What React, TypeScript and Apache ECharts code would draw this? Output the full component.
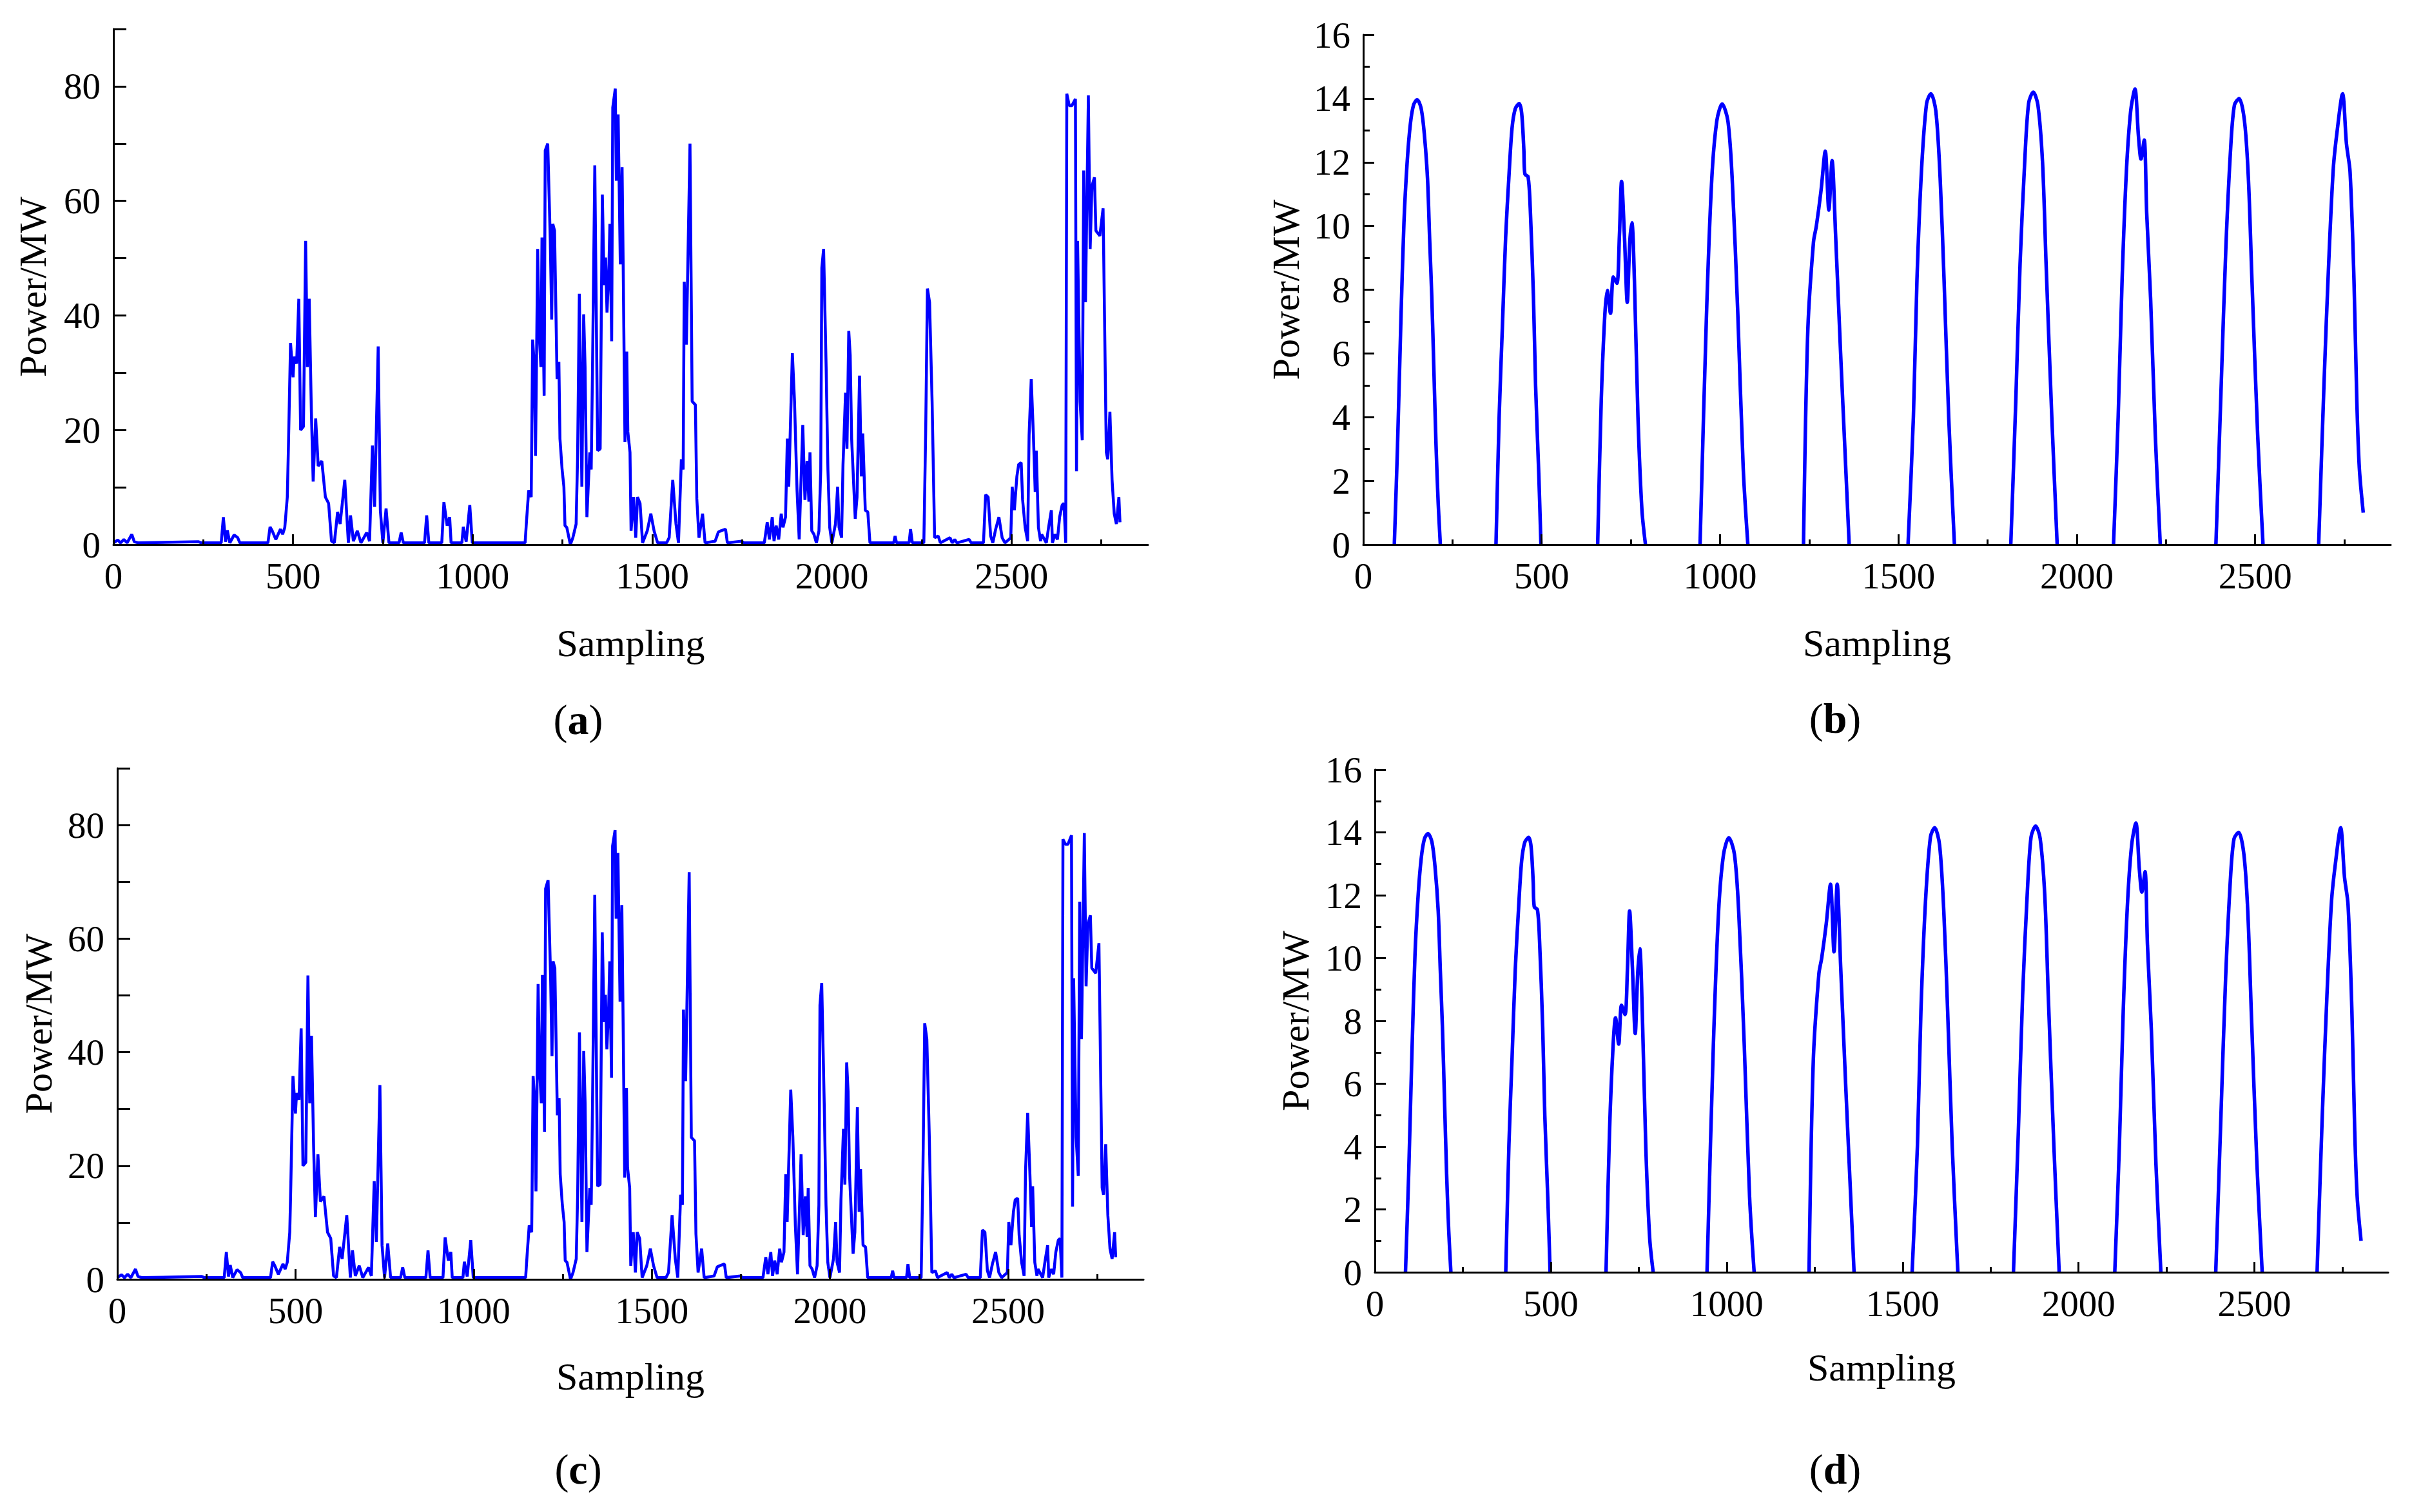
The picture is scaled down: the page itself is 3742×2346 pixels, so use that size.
import { useEffect, useRef } from "react";
import * as echarts from "echarts";

const FONT = "'Liberation Serif', 'Times New Roman', serif";
const BLUE = "#0000ff";

// wind power samples (panels a and c share the sampling positions)
const windX = [
  0, 12, 20, 29, 38, 51, 58, 70, 237, 245, 300, 306, 312, 317, 324, 336, 346, 352,
  430, 436, 442, 452, 465, 471, 477, 484, 487, 493, 500, 503, 510, 516, 521, 529, 535, 540, 545, 551, 556, 563, 570, 580, 590, 599, 607, 615,
  624, 631, 644, 654, 660, 668, 679, 689, 705, 713, 721, 727, 737, 743, 750, 759, 767, 795, 801, 807, 866, 872, 878, 914, 920, 929, 936, 940, 970, 974, 982, 992, 999,
  1146, 1150, 1156, 1163, 1167, 1172, 1175, 1181, 1185, 1190, 1193, 1199, 1202, 1209, 1216, 1220, 1223, 1228, 1231, 1235, 1240, 1243, 1249, 1254, 1257, 1262, 1272,
  1279, 1288, 1292, 1297, 1304, 1309, 1313, 1318, 1326, 1330, 1334, 1340, 1348, 1355, 1361, 1366, 1370, 1374, 1379, 1382, 1387, 1390, 1397, 1400, 1405, 1411, 1416, 1419, 1424, 1429, 1432, 1438, 1441, 1448, 1454, 1459, 1466, 1473,
  1486, 1496, 1505, 1515, 1540, 1547, 1557, 1566, 1573, 1581, 1586, 1589, 1595, 1605, 1611, 1620, 1624, 1630, 1640, 1647, 1675, 1684, 1691, 1704, 1709, 1749, 1755,
  1812, 1820, 1826, 1834, 1839, 1845, 1852, 1859, 1864, 1871, 1876, 1880, 1890, 1896, 1903, 1909, 1919, 1925, 1931, 1936, 1939, 1944, 1950, 1957,
  1964, 1969, 1972, 1977, 1984, 1989, 1994, 2000, 2010, 2016, 2020, 2027, 2031, 2038, 2042, 2047, 2051, 2055, 2065, 2070, 2077, 2082, 2086, 2093, 2100, 2106,
  2172, 2176, 2180, 2215, 2219, 2224, 2256, 2261, 2266, 2272, 2279, 2286, 2296, 2302,
  2329, 2335, 2342, 2348, 2382, 2388, 2422, 2428, 2435, 2442, 2448, 2456, 2465, 2474, 2482,
  2498, 2502, 2508, 2515, 2520, 2527, 2531, 2538, 2545, 2549, 2555, 2561, 2566, 2569, 2575, 2581, 2584, 2597, 2604, 2611, 2614, 2621, 2628, 2634, 2641, 2646, 2651,
  2654, 2661, 2668, 2678, 2681, 2684, 2691, 2697, 2701, 2706, 2714, 2719, 2724, 2731, 2735, 2746, 2755, 2764, 2768, 2774, 2780, 2786, 2792, 2799, 2802,
];

// panel (a)
const windA = [
  0.3, 0.8, 0.3, 0.9, 0.3, 1.8, 0.5, 0.3, 0.5, 0.3, 0.3, 4.8, 0.5, 2.5, 0.3, 1.7, 1.2, 0.3,
  0.3, 3.1, 2.4, 0.9, 2.7, 1.8, 3.0, 8.3, 16.7, 35.2, 29.2, 32.8, 31.6, 42.9, 20, 20.6, 53, 31, 42.9, 23.2, 11, 22, 13.7, 14.6, 8.3, 7.2, 0.6, 0.3,
  5.7, 3.6, 11.3, 0.3, 5.1, 0.6, 2.4, 0.3, 2.1, 0.6, 17.3, 6.6, 34.6, 6, 0.3, 6.3, 0.3, 0.3, 2.1, 0.3, 0.3, 5.1, 0.3, 0.3, 7.4, 3.3, 4.8, 0.3, 0.3, 3.1, 0.5, 6.9, 0.3,
  0.3, 4.2, 9.5, 8.3, 35.8, 31, 15.5, 51.6, 37, 31, 53.6, 26, 68.8, 70, 53.4, 39.3, 56, 54.8, 43.5, 28.9, 31.9, 18.5, 13.1, 10.1, 3.3, 3, 0,
  1.2, 3.6, 14.9, 43.8, 10.1, 40.2, 31, 4.8, 16.1, 13.1, 32.5, 66.2, 16.4, 16.7, 61.1, 45.3, 50.1, 40.5, 47.7, 56, 35.5, 76.3, 79.6, 63.5, 75.1, 48.9, 65.9, 48.9, 17.9, 33.7, 19.7, 16.1, 2.4, 8.3, 1.2, 8.3, 7.2, 0.3,
  2.4, 5.4, 2.4, 0.3, 0.3, 1.2, 11.3, 3.6, 0.3, 14.9, 13.1, 45.9, 34.9, 70, 25, 24.4, 8, 1.2, 5.4, 0.3, 0.6, 2.2, 2.4, 2.7, 0.3, 0.6, 0.3,
  0.3, 3.9, 0.9, 4.8, 0.6, 3.3, 0.9, 5.4, 3, 4.8, 18.5, 10.1, 33.4, 25, 9.5, 0.9, 20.9, 7.8, 14.6, 7.5, 16.1, 2.4, 1.8, 0.3,
  2.4, 13.1, 48.3, 51.6, 31, 13.1, 3, 0.3, 3.6, 10.1, 3, 1.2, 14, 26.5, 16.7, 37.3, 33.1, 18.5, 4.5, 8.3, 29.5, 11.9, 19.4, 6, 5.7, 0.3,
  0.3, 1.5, 0.3, 0.3, 2.7, 0.3, 0.3, 19.1, 44.7, 42.3, 25, 1.2, 1.5, 0.3,
  1.2, 0.3, 0.9, 0.3, 0.9, 0.3, 0.3, 8.7, 8.3, 1.5, 0.3, 2.7, 4.8, 1.2, 0.3,
  1.2, 10.1, 6, 11.9, 14, 14.3, 7.8, 3, 0.6, 19.1, 28.9, 19.1, 9.2, 16.4, 3, 0.6, 1.8, 0.3, 3.3, 6, 0.3, 1.8, 0.9, 4.8, 6.9, 7.2, 0.3,
  78.7, 76.6, 76.6, 77.8, 12.8, 53, 25, 18.2, 65.3, 42.3, 78.4, 51.6, 62.6, 64.1, 54.8, 53.9, 58.7, 16.1, 14.9, 23.2, 11.3, 5.4, 3.6, 8.3, 3.9,
];

// panel (c)
const windC = [
  0.3, 0.8, 0.3, 0.9, 0.3, 1.8, 0.5, 0.3, 0.5, 0.3, 0.3, 4.8, 0.5, 2.5, 0.3, 1.7, 1.2, 0.3,
  0.3, 3.1, 2.4, 0.9, 2.7, 1.8, 3.0, 8.3, 16.7, 35.8, 29.2, 32.8, 31.6, 44.2, 20, 20.6, 53.5, 31, 42.9, 23.2, 11, 22, 13.7, 14.6, 8.3, 7.2, 0.6, 0.3,
  5.7, 3.6, 11.3, 0.3, 5.1, 0.6, 2.4, 0.3, 2.1, 0.6, 17.3, 6.6, 34.2, 6, 0.3, 6.3, 0.3, 0.3, 2.1, 0.3, 0.3, 5.1, 0.3, 0.3, 7.4, 3.3, 4.8, 0.3, 0.3, 3.1, 0.5, 6.9, 0.3,
  0.3, 4.2, 9.5, 8.3, 35.8, 31, 15.5, 52, 37, 31, 53.6, 26, 68.8, 70.3, 53.4, 39.3, 56, 54.8, 43.5, 28.9, 31.9, 18.5, 13.1, 10.1, 3.3, 3, 0,
  1.2, 3.6, 14.9, 43.5, 10.1, 40.2, 31, 4.8, 16.1, 13.1, 32.5, 67.7, 16.4, 16.7, 61.1, 45.3, 50.1, 40.5, 47.7, 56, 35.5, 76.3, 79.1, 63.5, 75.1, 48.9, 65.9, 48.9, 17.9, 33.7, 19.7, 16.1, 2.4, 8.3, 1.2, 8.3, 7.2, 0.3,
  2.4, 5.4, 2.4, 0.3, 0.3, 1.2, 11.3, 3.6, 0.3, 14.9, 13.1, 47.5, 34.9, 71.7, 25, 24.4, 8, 1.2, 5.4, 0.3, 0.6, 2.2, 2.4, 2.7, 0.3, 0.6, 0.3,
  0.3, 3.9, 0.9, 4.8, 0.6, 3.3, 0.9, 5.4, 3, 4.8, 18.5, 10.1, 33.4, 25, 9.5, 0.9, 22, 7.8, 14.6, 7.5, 16.1, 2.4, 1.8, 0.3,
  2.4, 13.1, 48.3, 52.2, 31, 13.1, 3, 0.3, 3.6, 10.1, 3, 1.2, 14, 26.5, 16.7, 38.2, 33.1, 18.5, 4.5, 8.3, 30.3, 11.9, 19.4, 6, 5.7, 0.3,
  0.3, 1.5, 0.3, 0.3, 2.7, 0.3, 0.3, 19.1, 45.1, 42.3, 25, 1.2, 1.5, 0.3,
  1.2, 0.3, 0.9, 0.3, 0.9, 0.3, 0.3, 8.7, 8.3, 1.5, 0.3, 2.7, 4.8, 1.2, 0.3,
  1.2, 10.1, 6, 11.9, 14, 14.3, 7.8, 3, 0.6, 19.1, 29.3, 19.1, 9.2, 16.4, 3, 0.6, 1.8, 0.3, 3.3, 6, 0.3, 1.8, 0.9, 4.8, 6.9, 7.2, 0.3,
  77.5, 76.6, 76.6, 78.2, 12.8, 53, 25, 18.2, 66.5, 42.3, 78.6, 51.6, 62.6, 64.1, 54.8, 53.9, 59.2, 16.1, 14.9, 23.8, 11.3, 5.4, 3.6, 8.3, 3.9,
];

// solar power samples (panels b and d); null splits the daily humps
const solarX = [
  87, 96, 105, 114, 123, 132, 141, 151, 162, 171, 180, 186, 192, 198, 204, 210, 216, 300,
  372, 381, 390, 399, 408, 417, 426, 437, 444, 450, 453, 462, 468, 477, 483, 492, 498, 580,
  657, 667, 677, 684, 693, 701, 711, 718, 724, 732, 740, 747, 753, 760, 770, 781, 791, 870,
  944, 962, 977, 991, 1006, 1022, 1034, 1050, 1065, 1078, 1150,
  1234, 1246, 1262, 1270, 1283, 1295, 1305, 1314, 1324, 1338, 1350, 1362, 1450,
  1527, 1542, 1552, 1565, 1579, 1591, 1605, 1617, 1628, 1641, 1657, 1740,
  1815, 1829, 1841, 1854, 1865, 1878, 1891, 1904, 1914, 1930, 1945, 2020,
  2103, 2116, 2127, 2139, 2151, 2163, 2173, 2180, 2189, 2196, 2207, 2220, 2234, 2310,
  2390, 2405, 2418, 2432, 2442, 2455, 2470, 2481, 2491, 2507, 2522, 2600,
  2678, 2693, 2706, 2719, 2730, 2745, 2756, 2766, 2777, 2785, 2792, 2803,
];

const solarB = [
  0, 3.1, 6.85, 10.1, 12.0, 13.2, 13.8, 13.96, 13.7, 12.9, 11.5, 9.6, 7.8, 5.45, 3.1, 1.3, 0, null,
  0, 4.06, 6.85, 9.63, 11.5, 13.07, 13.68, 13.84, 13.54, 12.42, 11.63, 11.54, 10.56, 7.78, 4.99, 2.2, 0, null,
  0, 4.5, 7.2, 7.98, 7.26, 8.4, 8.2, 9.7, 11.4, 9.7, 7.6, 9.5, 10.1, 8.3, 4.0, 1.1, 0, null,
  0, 7.2, 11.5, 13.3, 13.83, 13.3, 11.5, 7.2, 2.4, 0, null,
  0, 6.7, 9.5, 10.0, 11.1, 12.35, 10.5, 12.05, 9.7, 6.0, 3.0, 0, null,
  0, 4.0, 8.3, 11.8, 13.85, 14.15, 13.6, 11.5, 8.3, 4.0, 0, null,
  0, 4.5, 8.8, 12.0, 13.85, 14.2, 13.8, 12.0, 8.8, 4.0, 0, null,
  0, 4.0, 8.3, 11.7, 13.6, 14.3, 12.8, 12.1, 12.7, 10.4, 7.7, 3.45, 0, null,
  0, 5.06, 9.35, 12.57, 13.8, 14.0, 13.3, 11.5, 8.3, 3.45, 0, null,
  0, 5.06, 8.8, 11.8, 13.0, 14.15, 12.57, 11.7, 8.3, 4.5, 2.4, 1.0,
];

const solarD = [
  0, 3.1, 6.85, 10.1, 12.0, 13.2, 13.8, 13.96, 13.7, 12.9, 11.5, 9.6, 7.8, 5.45, 3.1, 1.3, 0, null,
  0, 4.06, 6.85, 9.63, 11.5, 13.07, 13.68, 13.84, 13.54, 12.42, 11.63, 11.54, 10.56, 7.78, 4.99, 2.2, 0, null,
  0, 4.5, 7.2, 8.1, 7.26, 8.5, 8.2, 9.7, 11.5, 9.7, 7.6, 9.5, 10.3, 8.3, 4.0, 1.1, 0, null,
  0, 7.2, 11.5, 13.3, 13.83, 13.3, 11.5, 7.2, 2.4, 0, null,
  0, 6.7, 9.5, 10.0, 11.1, 12.35, 10.2, 12.35, 9.7, 6.0, 3.0, 0, null,
  0, 4.0, 8.3, 11.8, 13.85, 14.15, 13.6, 11.5, 8.3, 4.0, 0, null,
  0, 4.5, 8.8, 12.0, 13.85, 14.2, 13.8, 12.0, 8.8, 4.0, 0, null,
  0, 4.0, 8.3, 11.7, 13.6, 14.3, 12.8, 12.1, 12.75, 10.4, 7.7, 3.45, 0, null,
  0, 5.06, 9.35, 12.57, 13.8, 14.0, 13.3, 11.5, 8.3, 3.45, 0, null,
  0, 5.06, 8.8, 11.8, 13.0, 14.15, 12.57, 11.7, 8.3, 4.5, 2.4, 1.0,
];

const samplingTicks = [0, 500, 1000, 1500, 2000, 2500];
const panelNames = ["a", "b", "c", "d"];

// layout of the four panels, in page pixels
const panels = [
  { grid: { left: 176, top: 45, width: 1605, height: 800 }, yGap: 95, xGap: 123, label: [897, 1116] },
  { grid: { left: 2115, top: 54, width: 1594, height: 791 }, yGap: 90, xGap: 123, label: [2847, 1114] },
  { grid: { left: 182, top: 1192, width: 1592, height: 793 }, yGap: 92, xGap: 121, label: [897, 2279] },
  { grid: { left: 2133, top: 1194, width: 1572, height: 780 }, yGap: 93, xGap: 118, label: [2847, 2279] },
];

const pairs = (xs: number[], ys: (number | null)[]) => xs.map((x, i) => [x, ys[i] === null ? "-" : ys[i]]);

const black = { color: "#000", width: 3 };
const tickText = { fontFamily: FONT, fontSize: 57, color: "#000" };

function makeXAxis(i: number) {
  return {
    type: "value",
    gridIndex: i,
    min: 0,
    max: 2880,
    interval: 500,
    z: 5,
    name: "Sampling",
    nameLocation: "middle",
    nameGap: panels[i].xGap,
    nameTextStyle: { fontFamily: FONT, fontSize: 60, color: "#000" },
    axisLine: { onZero: false, lineStyle: black },
    axisTick: { inside: true, length: 16, customValues: samplingTicks, lineStyle: black },
    minorTick: { show: true, splitNumber: 2, length: 8, lineStyle: black },
    axisLabel: {
      ...tickText,
      margin: 20,
      customValues: samplingTicks,
      formatter: (v: number) => (v % 500 === 0 ? String(v) : ""),
    },
    splitLine: { show: false },
  };
}

function makeYAxis(i: number, wind: boolean) {
  return {
    type: "value",
    gridIndex: i,
    min: 0,
    max: wind ? 90 : 16,
    interval: wind ? 10 : 2,
    z: 5,
    name: "Power/MW",
    nameLocation: "middle",
    nameGap: panels[i].yGap,
    nameTextStyle: { fontFamily: FONT, fontSize: 60, color: "#000" },
    axisLine: { onZero: false, lineStyle: black },
    axisTick: { inside: true, length: wind ? 20 : 17, lineStyle: black },
    minorTick: { show: !wind, splitNumber: 2, length: 10, lineStyle: black },
    axisLabel: {
      ...tickText,
      margin: 20,
      formatter: (v: number) => (wind && v % 20 !== 0 ? "" : String(v)),
    },
    splitLine: { show: false },
  };
}

function makeSeries(i: number, data: (number | string)[][], smooth: number, width: number) {
  return {
    type: "line",
    xAxisIndex: i,
    yAxisIndex: i,
    data,
    smooth,
    connectNulls: false,
    showSymbol: false,
    silent: true,
    lineStyle: { color: BLUE, width },
  };
}

export default function App() {
  const chartRef = useRef<HTMLDivElement>(null);

  useEffect(() => {
    document.body.style.margin = "0";
    if (!chartRef.current) return;
    const chart = echarts.init(chartRef.current, undefined, { renderer: "svg" });

    chart.setOption({
      animation: false,
      backgroundColor: "#fff",
      grid: panels.map((p) => ({ ...p.grid, containLabel: false })),
      xAxis: [0, 1, 2, 3].map((i) => makeXAxis(i)),
      yAxis: [makeYAxis(0, true), makeYAxis(1, false), makeYAxis(2, true), makeYAxis(3, false)],
      series: [
        makeSeries(0, pairs(windX, windA), 0, 4.5),
        makeSeries(1, pairs(solarX, solarB), 0.3, 5.5),
        makeSeries(2, pairs(windX, windC), 0, 4.5),
        makeSeries(3, pairs(solarX, solarD), 0.3, 5.5),
      ],
      graphic: panels.map((p, i) => ({
        type: "text",
        x: p.label[0],
        y: p.label[1],
        style: {
          text: `{n|(}{b|${panelNames[i]}}{n|)}`,
          align: "center",
          verticalAlign: "middle",
          fontFamily: FONT,
          fontSize: 66,
          fill: "#000",
          rich: {
            n: { fontFamily: FONT, fontSize: 66, fontWeight: "normal", fill: "#000" },
            b: { fontFamily: FONT, fontSize: 66, fontWeight: "bold", fill: "#000" },
          },
        },
      })),
    });

    return () => {
      chart.dispose();
    };
  }, []);

  return <div ref={chartRef} style={{ width: "3742px", height: "2346px" }} />;
}
